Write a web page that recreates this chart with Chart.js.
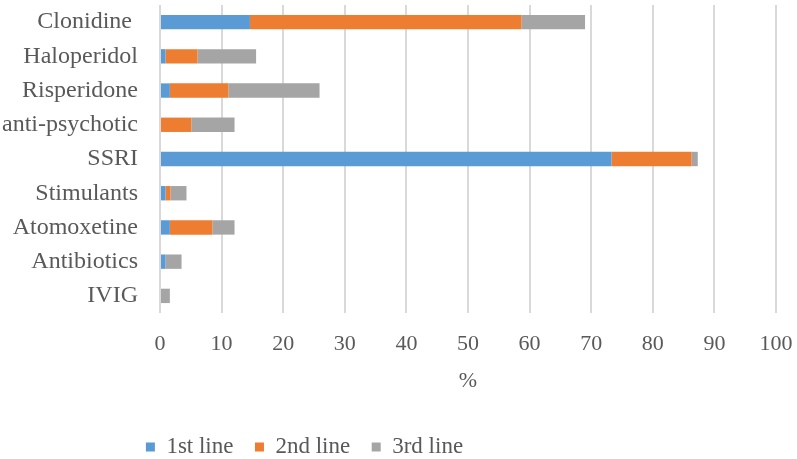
<!DOCTYPE html>
<html>
<head>
<meta charset="utf-8">
<script src="https://cdn.jsdelivr.net/npm/chart.js@4/dist/chart.umd.min.js"></script>
<style>
  html, body { margin: 0; padding: 0; background: #fff; }
  #wrap { width: 797px; height: 459px; }
</style>
</head>
<body>
<div id="wrap"><canvas id="chart"></canvas></div>
<script>
// Data (percent of patients)
const categories = ['Clonidine ', 'Haloperidol', 'Risperidone', 'anti-psychotic', 'SSRI', 'Stimulants', 'Atomoxetine', 'Antibiotics', 'IVIG'];
const seriesNames = ['1st line', '2nd line', '3rd line'];
const firstLine = [14.6, 0.9, 1.6, 0, 73.3, 0.9, 1.6, 0.9, 0];
const secondLine = [44.1, 5.2, 9.5, 5.1, 13.0, 0.8, 6.9, 0, 0];
const thirdLine = [10.3, 9.5, 14.8, 7.0, 1.0, 2.6, 3.6, 2.6, 1.6];
const xTicks = [0, 10, 20, 30, 40, 50, 60, 70, 80, 90, 100];

const colors = ['#5b9bd5', '#ed7d31', '#a5a5a5'];
const textColor = '#595959';
const serif = '"Liberation Serif", "Times New Roman", serif';

// Move the legend where the reference has it (left of centre)
const legendPlace = {
  id: 'legendPlace',
  afterLayout(chart) {
    const lg = chart.legend;
    if (!lg) return;
    const h = lg.bottom - lg.top;
    lg.left = 0;
    lg.right = 609;
    lg.top = 414;
    lg.bottom = 414 + h;
  }
};

const ctx = document.getElementById('chart').getContext('2d');
new Chart(ctx, {
  type: 'bar',
  data: {
    labels: categories,
    datasets: [firstLine, secondLine, thirdLine].map((values, i) => ({
      label: seriesNames[i],
      data: values,
      backgroundColor: colors[i],
      borderWidth: 0,
      categoryPercentage: 1,
      barPercentage: 0.42
    }))
  },
  options: {
    indexAxis: 'y',
    responsive: true,
    maintainAspectRatio: false,
    animation: false,
    layout: { padding: { top: 5, right: 21, bottom: 0, left: 0 } },
    scales: {
      x: {
        stacked: true,
        min: 0,
        max: 100,
        afterBuildTicks: (scale) => { scale.ticks = xTicks.map(v => ({ value: v })); },
        afterFit: (scale) => {
          scale.height = 91.5;
          scale.paddingLeft = 0;
          scale.paddingRight = 0;
        },
        grid: { color: '#d9d9d9', lineWidth: 2, drawTicks: false },
        border: { display: false },
        ticks: { color: textColor, font: { family: serif, size: 22 }, padding: 18, maxRotation: 0 },
        title: {
          display: true,
          text: '%',
          color: textColor,
          font: { family: serif, size: 22 },
          padding: { top: 0, bottom: 10.5 }
        }
      },
      y: {
        stacked: true,
        afterFit: (scale) => {
          scale.width = 160;
          scale.paddingTop = 0;
          scale.paddingBottom = 0;
        },
        grid: { display: false },
        border: { display: false },
        ticks: { color: textColor, font: { family: serif, size: 24 }, padding: 14, autoSkip: false }
      }
    },
    plugins: {
      legend: {
        position: 'bottom',
        labels: {
          color: textColor,
          font: { family: serif, size: 23 },
          boxWidth: 9,
          boxHeight: 9,
          padding: 21.5
        }
      },
      tooltip: { enabled: false }
    }
  },
  plugins: [legendPlace]
});
</script>
</body>
</html>
